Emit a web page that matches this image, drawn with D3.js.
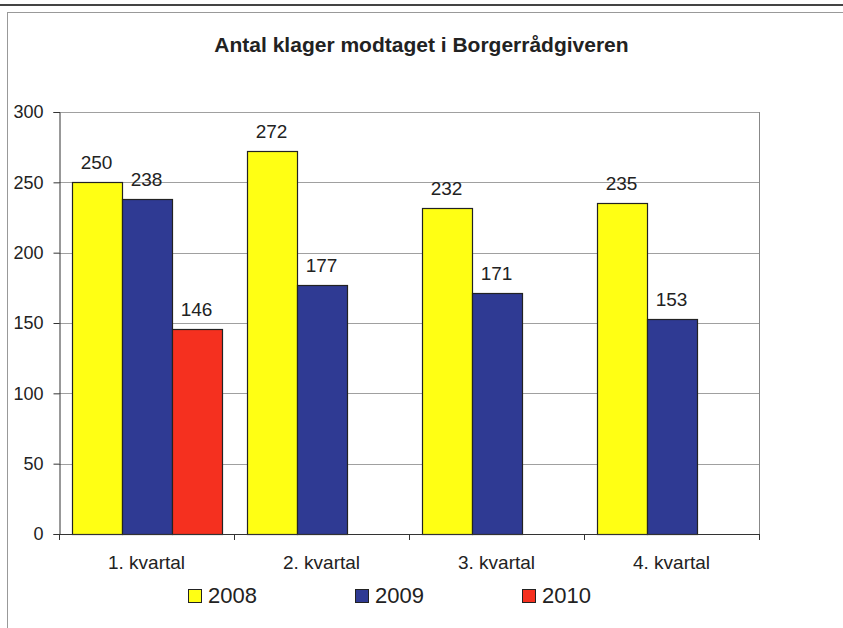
<!DOCTYPE html>
<html>
<head>
<meta charset="utf-8">
<script src="https://cdn.jsdelivr.net/npm/d3@7/dist/d3.min.js"></script>
<style>
  body { margin: 0; background: #fff; }
  svg { display: block; font-family: Arial, "Liberation Sans", sans-serif; }
</style>
</head>
<body>
<svg id="chart" width="843" height="628"></svg>
<script>
// chart data
var title = "Antal klager modtaget i Borgerrådgiveren";
var categories = ["1. kvartal", "2. kvartal", "3. kvartal", "4. kvartal"];
var years = ["2008", "2009", "2010"];
var values2008 = [250, 272, 232, 235];
var values2009 = [238, 177, 171, 153];
var values2010 = [146, null, null, null];
var yTicks = [0, 50, 100, 150, 200, 250, 300];
var colors = { "2008": "#ffff14", "2009": "#2f3a93", "2010": "#f5301f" };

var margins = { top: 112, bottom: 94, left: 59, right: 84 };

var svg = d3.select("#chart");
var width = +svg.attr("width");
var height = +svg.attr("height");
var plotRight = width - margins.right;
var plotBottom = height - margins.bottom;

// outer frame
svg.append("line")
    .attr("x1", 0).attr("x2", width)
    .attr("y1", 5).attr("y2", 5)
    .style("stroke", "#444").style("stroke-width", 2);
svg.append("rect")
    .attr("x", 7.5).attr("y", 12.5)
    .attr("width", width + 20).attr("height", height + 20)
    .style("fill", "none").style("stroke", "#999");

svg.append("text")
    .attr("x", width / 2).attr("y", 52)
    .attr("text-anchor", "middle")
    .style("font-size", "21px").style("font-weight", "bold").style("fill", "#222")
    .text(title);

var x0 = d3.scaleBand().domain(categories).range([margins.left, plotRight]);
var x1 = d3.scaleBand().domain(years).range([0, x0.bandwidth()])
    .paddingInner(0).paddingOuter(0.25);
var y = d3.scaleLinear().domain([0, 300]).range([plotBottom, margins.top]);

// gridlines
svg.append("g").selectAll("line")
    .data(yTicks.slice(1))
    .enter().append("line")
    .attr("x1", margins.left).attr("x2", plotRight)
    .attr("y1", function (d) { return Math.round(y(d)) + 0.5; })
    .attr("y2", function (d) { return Math.round(y(d)) + 0.5; })
    .style("stroke", "#a0a0a0");
svg.append("line")
    .attr("x1", plotRight + 0.5).attr("x2", plotRight + 0.5)
    .attr("y1", margins.top).attr("y2", plotBottom)
    .style("stroke", "#888");

var series = [
    { id: "2008", values: values2008 },
    { id: "2009", values: values2009 },
    { id: "2010", values: values2010 }
];
var points = [];
series.forEach(function (s) {
    s.values.forEach(function (v, i) {
        if (v !== null) points.push({ year: s.id, cat: categories[i], value: v });
    });
});

var bars = svg.append("g");
bars.selectAll("rect")
    .data(points)
    .enter().append("rect")
    .attr("x", function (d) { return Math.round(x0(d.cat) + x1(d.year)) + 0.5; })
    .attr("y", function (d) { return Math.round(y(d.value)) + 0.5; })
    .attr("width", Math.round(x1.bandwidth()))
    .attr("height", function (d) { return Math.round(plotBottom - y(d.value)); })
    .style("fill", function (d) { return colors[d.year]; })
    .style("stroke", "#222").style("stroke-width", 1.2);

bars.selectAll("text")
    .data(points)
    .enter().append("text")
    .attr("x", function (d) { return x0(d.cat) + x1(d.year) + x1.bandwidth() / 2; })
    .attr("y", function (d) { return y(d.value) - 13; })
    .attr("text-anchor", "middle")
    .style("font-size", "19px").style("fill", "#222")
    .text(function (d) { return d.value; });

// y axis
var yAxis = d3.axisLeft(y).tickValues(yTicks).tickSize(6).tickPadding(10);
var yG = svg.append("g")
    .attr("transform", "translate(" + (margins.left + 0.5) + ",0)")
    .call(yAxis);
yG.select(".domain").style("stroke", "#333");
yG.selectAll(".tick line").style("stroke", "#333");
yG.selectAll("text").style("font-size", "18px").style("fill", "#222")
    .style("font-family", "Arial, 'Liberation Sans', sans-serif");

// x axis
var xAxis = d3.axisBottom(x0).tickSize(0).tickPadding(21);
var xG = svg.append("g")
    .attr("transform", "translate(0," + (plotBottom + 0.5) + ")")
    .call(xAxis);
xG.select(".domain").remove();
xG.selectAll("text").style("font-size", "19px").style("fill", "#222")
    .style("font-family", "Arial, 'Liberation Sans', sans-serif");
svg.append("line")
    .attr("x1", margins.left).attr("x2", plotRight + 1)
    .attr("y1", plotBottom + 0.5).attr("y2", plotBottom + 0.5)
    .style("stroke", "#333");
var edges = categories.map(function (c) { return x0(c); }).concat([plotRight]);
svg.append("g").selectAll("line")
    .data(edges)
    .enter().append("line")
    .attr("x1", function (d) { return Math.round(d) + 0.5; })
    .attr("x2", function (d) { return Math.round(d) + 0.5; })
    .attr("y1", plotBottom).attr("y2", plotBottom + 6)
    .style("stroke", "#333");

// legend
var legendX = d3.scaleBand().domain(years).range([188, 689]);
var legend = svg.append("g").selectAll("g")
    .data(years)
    .enter().append("g")
    .attr("transform", function (d) { return "translate(" + legendX(d) + ",589)"; });
legend.append("rect")
    .attr("x", 0.5).attr("y", 0.5)
    .attr("width", 13).attr("height", 13)
    .style("fill", function (d) { return colors[d]; })
    .style("stroke", "#222");
legend.append("text")
    .attr("x", 20).attr("y", 14)
    .style("font-size", "22px").style("fill", "#222")
    .text(function (d) { return d; });
</script>
</body>
</html>
